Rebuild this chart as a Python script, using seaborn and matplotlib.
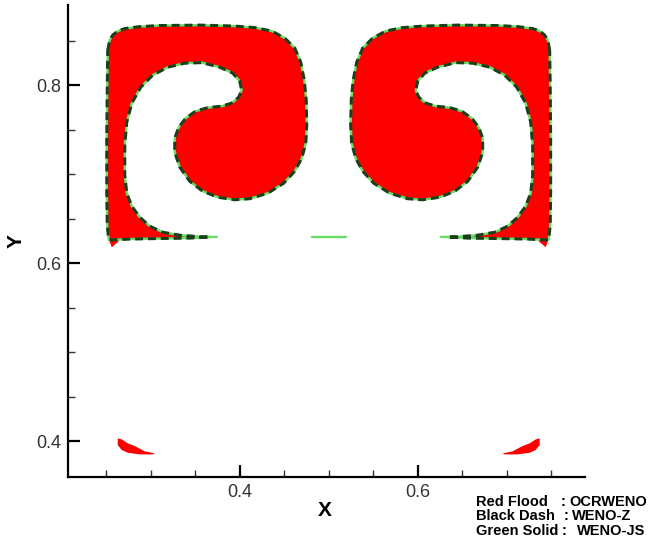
import matplotlib
matplotlib.use("Agg")
import matplotlib.pyplot as plt
import numpy as np
import pandas as pd
import seaborn as sns

# Interface contour of the left vortex (the right vortex is its mirror about x = 0.5)
vortex_x = [0.2517, 0.2539, 0.2573, 0.2629, 0.2708, 0.2876, 0.3101, 0.3551, 0.3944, 0.4169,
            0.4360, 0.4506, 0.4618, 0.4685, 0.4725, 0.4747, 0.4753, 0.4742, 0.4697, 0.4618,
            0.4494, 0.4315, 0.4112, 0.3944, 0.3753, 0.3584, 0.3438, 0.3326, 0.3270, 0.3270,
            0.3315, 0.3393, 0.3506, 0.3640, 0.3798, 0.3910, 0.3989, 0.4022, 0.4000, 0.3921,
            0.3775, 0.3573, 0.3382, 0.3191, 0.3022, 0.2888, 0.2787, 0.2730, 0.2708, 0.2708,
            0.2730, 0.2787, 0.2876, 0.2989, 0.3135, 0.3326, 0.3551, 0.3663, 0.3438, 0.3101,
            0.2764, 0.2596, 0.2528, 0.2511, 0.2506, 0.2506, 0.2511]
vortex_y = [0.8393, 0.8506, 0.8562, 0.8607, 0.8635, 0.8657, 0.8669, 0.8674, 0.8663, 0.8646,
            0.8607, 0.8528, 0.8416, 0.8258, 0.8056, 0.7831, 0.7551, 0.7348, 0.7180, 0.7034,
            0.6899, 0.6787, 0.6725, 0.6713, 0.6742, 0.6809, 0.6921, 0.7079, 0.7247, 0.7404,
            0.7528, 0.7629, 0.7708, 0.7747, 0.7764, 0.7798, 0.7865, 0.7944, 0.8045, 0.8135,
            0.8202, 0.8253, 0.8247, 0.8202, 0.8112, 0.7978, 0.7798, 0.7584, 0.7326, 0.6989,
            0.6787, 0.6640, 0.6517, 0.6416, 0.6348, 0.6315, 0.6298, 0.6294, 0.6283, 0.6278,
            0.6272, 0.6264, 0.6264, 0.6427, 0.6820, 0.7382, 0.7944]

# small overshoot of the flooded region at the lower-left corner
corner_tip_x = [0.2528, 0.2562, 0.2652]
corner_tip_y = [0.6270, 0.6180, 0.6258]

# detached spike near the bottom
spike_x = [0.2629, 0.2674, 0.2742, 0.2820, 0.2933, 0.3045, 0.3022, 0.2876, 0.2742, 0.2674, 0.2629, 0.2629]
spike_y = [0.4034, 0.4022, 0.3978, 0.3948, 0.3888, 0.3865, 0.3854, 0.3854, 0.3872, 0.3903, 0.3959, 0.3998]

# WENO-JS interface pieces reaching beyond the other two contours
js_tail_x = [0.3551, 0.3742]
js_tail_y = [0.6298, 0.6296]
js_mid_x = [0.4809, 0.5191]
js_mid_y = [0.6296, 0.6296]

x_major = [0.4, 0.6]
x_minor = [0.25, 0.30, 0.35, 0.45, 0.50, 0.55, 0.65, 0.70, 0.75]
y_major = [0.4, 0.6, 0.8]
y_minor = [0.45, 0.50, 0.55, 0.65, 0.70, 0.75, 0.85]
x_range = (0.207, 0.788)
y_range = (0.36, 0.89)

legend_names = ["Red Flood", "Black Dash", "Green Solid"]
legend_schemes = ["OCRWENO", "WENO-Z", "WENO-JS"]


def mirror(xs):
    return [round(1.0 - v, 4) for v in xs]


def closed(xs, ys):
    return list(xs) + [xs[0]], list(ys) + [ys[0]]


sns.set_theme(style="ticks")
plt.rcParams["font.family"] = ["Liberation Sans", "DejaVu Sans"]

fig = plt.figure(figsize=(6.52, 5.43), dpi=100)
ax = fig.add_axes([68 / 652, 66 / 543, 517 / 652, 472 / 543])

red = "#ff0000"
dash_col = "#1d3d1d"
green = "#66dd66"

# flooded regions (OCRWENO)
for xs, ys in [(vortex_x, vortex_y), (mirror(vortex_x), vortex_y),
               (corner_tip_x, corner_tip_y), (mirror(corner_tip_x), corner_tip_y),
               (spike_x, spike_y), (mirror(spike_x), spike_y)]:
    ax.fill(xs, ys, color=red, lw=0, zorder=1)

# contour lines as tidy frames
rows = []
for part, (xs, ys) in enumerate([closed(vortex_x, vortex_y), closed(mirror(vortex_x), vortex_y)]):
    for i, (a, b) in enumerate(zip(xs, ys)):
        rows.append({"part": part, "order": i, "x": a, "y": b})
outline = pd.DataFrame(rows)

js_rows = rows.copy()
extra = [(js_tail_x, js_tail_y), (mirror(js_tail_x), js_tail_y), (js_mid_x, js_mid_y)]
for k, (xs, ys) in enumerate(extra):
    for i, (a, b) in enumerate(zip(xs, ys)):
        js_rows.append({"part": 10 + k, "order": i, "x": a, "y": b})
js_lines = pd.DataFrame(js_rows)

# WENO-JS: green solid
sns.lineplot(data=js_lines, x="x", y="y", units="part", estimator=None, sort=False,
             color=green, lw=1.7, legend=False, ax=ax, zorder=2)
# WENO-Z: black dash
sns.lineplot(data=outline, x="x", y="y", units="part", estimator=None, sort=False,
             color=dash_col, lw=2.2, linestyle=(0, (2.6, 1.6)), dash_capstyle="butt",
             legend=False, ax=ax, zorder=3)

ax.set_xlim(*x_range)
ax.set_ylim(*y_range)
ax.set_aspect("auto")

ax.set_xticks(x_major)
ax.set_xticks(x_minor, minor=True)
ax.set_yticks(y_major)
ax.set_yticks(y_minor, minor=True)
ax.set_xticklabels([f"{v:.1f}" for v in x_major])
ax.set_yticklabels([f"{v:.1f}" for v in y_major])

ax.tick_params(which="major", direction="in", length=8.5, width=1.6, pad=5,
               labelsize=13, labelcolor="#333333", color="black",
               bottom=True, left=True, top=False, right=False)
ax.tick_params(which="minor", direction="in", length=5, width=1.0, color="#333333",
               bottom=True, left=True, top=False, right=False)

for side in ["top", "right"]:
    ax.spines[side].set_visible(False)
for side in ["left", "bottom"]:
    ax.spines[side].set_linewidth(1.6)
    ax.spines[side].set_color("black")

ax.set_xlabel("X", fontsize=15, fontweight="bold", color="black")
ax.set_ylabel("Y", fontsize=15, fontweight="bold", color="black")
ax.xaxis.set_label_coords(0.497, -0.050)
ax.yaxis.set_label_coords(-0.082, 0.499)
ax.grid(False)

# scheme key: name, colon and scheme in three columns
colon_px = [561, 564, 562]
scheme_px = [569, 572, 577]
for i, (name, scheme) in enumerate(zip(legend_names, legend_schemes)):
    yy = 1 - (502 + 14.5 * i) / 543
    kw = dict(fontsize=10.5, fontweight="bold", color="black", ha="left", va="center")
    fig.text(476 / 652, yy, name, **kw)
    fig.text(colon_px[i] / 652, yy, ":", **kw)
    fig.text(scheme_px[i] / 652, yy, scheme, **kw)

fig.savefig("out.png", dpi=100, facecolor="white")
